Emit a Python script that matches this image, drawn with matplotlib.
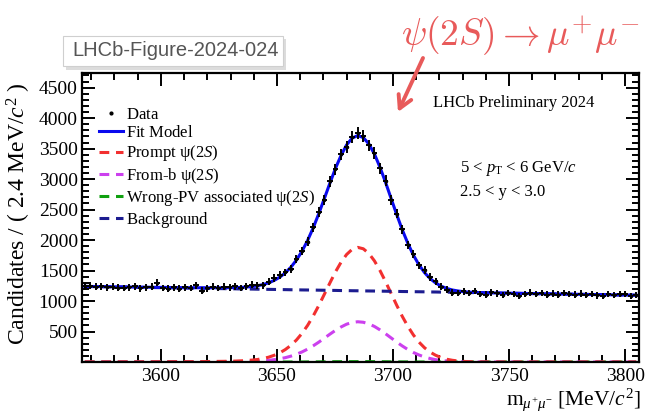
import numpy as np
import matplotlib
matplotlib.use("Agg")
import matplotlib.pyplot as plt
from matplotlib.lines import Line2D
from matplotlib.patches import Rectangle

# ---------------- data ----------------
mass_lo, mass_hi, n_bins = 3566.0, 3806.0, 100

data_counts = [
    1245, 1249, 1232, 1245, 1223, 1237, 1217, 1212, 1222, 1241,
    1209, 1222, 1236, 1299, 1214, 1202, 1227, 1205, 1228, 1213,
    1258, 1168, 1207, 1233, 1212, 1238, 1228, 1245, 1213, 1244,
    1268, 1255, 1255, 1318, 1378, 1426, 1472, 1524, 1687, 1822,
    1973, 2209, 2455, 2664, 2961, 3165, 3406, 3530, 3687, 3754,
    3711, 3552, 3431, 3179, 2976, 2661, 2433, 2178, 1921, 1772,
    1583, 1506, 1393, 1326, 1233, 1186, 1136, 1135, 1158, 1131,
    1162, 1113, 1106, 1143, 1127, 1095, 1134, 1117, 1086, 1114,
    1138, 1117, 1130, 1104, 1122, 1106, 1129, 1113, 1106, 1120,
    1098, 1112, 1091, 1084, 1113, 1096, 1115, 1118, 1082, 1100,
]

background = [
    1239, 1238, 1236, 1235, 1233, 1232, 1230, 1229, 1227, 1226,
    1224, 1223, 1222, 1220, 1219, 1217, 1216, 1214, 1213, 1211,
    1210, 1209, 1207, 1206, 1204, 1203, 1201, 1200, 1198, 1197,
    1196, 1194, 1193, 1191, 1190, 1188, 1187, 1185, 1184, 1182,
    1181, 1180, 1178, 1177, 1175, 1174, 1172, 1171, 1169, 1168,
    1166, 1165, 1164, 1162, 1161, 1159, 1158, 1156, 1155, 1153,
    1152, 1151, 1149, 1148, 1146, 1145, 1143, 1142, 1140, 1139,
    1138, 1136, 1135, 1133, 1132, 1130, 1129, 1127, 1126, 1124,
    1123, 1122, 1120, 1119, 1117, 1116, 1114, 1113, 1111, 1110,
    1108, 1107, 1106, 1104, 1103, 1101, 1100, 1098, 1097, 1095,
]

prompt = [
    1, 1, 1, 1, 1, 1, 1, 2, 2, 2,
    2, 3, 3, 3, 4, 4, 4, 4, 5, 5,
    6, 7, 7, 9, 10, 11, 13, 15, 19, 24,
    31, 41, 57, 79, 110, 150, 204, 273, 361, 470,
    600, 753, 925, 1109, 1296, 1477, 1635, 1763, 1848, 1880,
    1857, 1780, 1659, 1500, 1318, 1124, 931, 748, 585, 443,
    326, 233, 162, 110, 72, 45, 28, 17, 10, 5,
    3, 1, 1, 0, 0, 0, 0, 0, 0, 0,
    0, 0, 0, 0, 0, 0, 0, 0, 0, 0,
    0, 0, 0, 0, 0, 0, 0, 0, 0, 0,
]

from_b = [
    0, 0, 0, 1, 1, 1, 1, 1, 1, 1,
    1, 1, 1, 1, 1, 1, 2, 2, 2, 2,
    2, 2, 3, 3, 3, 4, 4, 5, 6, 8,
    11, 15, 20, 28, 38, 53, 71, 96, 127, 165,
    211, 265, 325, 390, 456, 519, 574, 620, 649, 660,
    652, 626, 583, 527, 463, 395, 327, 263, 205, 156,
    115, 82, 57, 38, 25, 16, 10, 6, 3, 2,
    1, 1, 0, 0, 0, 0, 0, 0, 0, 0,
    0, 0, 0, 0, 0, 0, 0, 0, 0, 0,
    0, 0, 0, 0, 0, 0, 0, 0, 0, 0,
]

wrong_pv = [0] * 40 + [1, 1, 2, 3, 4, 5, 5, 6, 6, 6, 6, 6, 5, 5, 4, 3, 2, 1, 1] + [0] * 41

legend_labels = [r"$\mathrm{Data}$", r"$\mathrm{Fit\ Model}$", "Prompt ψ(2$S$)",
                 "From-b ψ(2$S$)", "Wrong-PV associated ψ(2$S$)",
                 r"$\mathrm{Background}$"]
x_ticks = [3600, 3650, 3700, 3750, 3800]
y_ticks = [0, 500, 1000, 1500, 2000, 2500, 3000, 3500, 4000, 4500]
error_scale = 1.6   # drawn error bars look wider than plain sqrt(N)

# ---------------- style ----------------
SERIF = ["Liberation Serif", "DejaVu Serif"]
plt.rcParams["font.family"] = SERIF
plt.rcParams["mathtext.fontset"] = "custom"
plt.rcParams["mathtext.rm"] = "Liberation Serif"
plt.rcParams["mathtext.it"] = "Liberation Serif:italic"
plt.rcParams["mathtext.bf"] = "Liberation Serif:bold"

C_FIT = "#0a0aee"
C_PROMPT = "#f23030"
C_FROMB = "#cc40ee"
C_WPV = "#10a010"
C_BKG = "#1c1c90"
DASH = (0, (3.2, 2.2))

W, H = 646, 413
fig = plt.figure(figsize=(W / 100, H / 100), dpi=100)
ax = fig.add_axes([82 / W, 1 - 362 / H, (639 - 82) / W, (362 - 73) / H])

edges = np.linspace(mass_lo, mass_hi, n_bins + 1)
centers = 0.5 * (edges[:-1] + edges[1:])
half_w = 0.5 * (edges[1] - edges[0])

d = np.array(data_counts, float)
bkg = np.array(background, float)
pr = np.array(prompt, float)
fb = np.array(from_b, float)
wp = np.array(wrong_pv, float)
fit = bkg + pr + fb + wp

ax.plot(centers, wp, color=C_WPV, lw=2.2, ls=DASH, zorder=2)
ax.plot(centers, fb, color=C_FROMB, lw=2.2, ls=DASH, zorder=2)
ax.plot(centers, pr, color=C_PROMPT, lw=2.2, ls=DASH, zorder=2)
ax.plot(centers, bkg, color=C_BKG, lw=2.2, ls=DASH, zorder=2)
ax.plot(centers, fit, color=C_FIT, lw=2.2, zorder=3)
ax.errorbar(centers, d, xerr=half_w, yerr=error_scale * np.sqrt(d), fmt="o",
            ms=1.5, color="black", elinewidth=1.4, capsize=0, zorder=4)

ax.set_xlim(mass_lo, mass_hi)
ax.set_ylim(0, 4740)
ax.set_xticks(x_ticks)
ax.set_xticklabels([str(v) for v in x_ticks])
ax.set_xticks(np.arange(3570, 3806, 10), minor=True)
ax.set_yticks(y_ticks)
ax.set_yticklabels(["" if v == 0 else str(v) for v in y_ticks])
ax.set_yticks(np.arange(0, 4741, 100), minor=True)
ax.tick_params(which="both", direction="in", top=True, right=True,
               labelsize=14, width=1.4, colors="black")
ax.tick_params(which="major", length=9.5)
ax.tick_params(which="minor", length=5)
ax.tick_params(axis="y", pad=3)
ax.tick_params(axis="x", pad=4)
for lbl in ax.get_xticklabels() + ax.get_yticklabels():
    lbl.set_fontfamily(SERIF)
for s in ax.spines.values():
    s.set_linewidth(1.6)

# axis titles
fig.text(19 / W, 1 - 214 / H, "Candidates / ( 2.4 MeV/$c^{2}$ )", rotation=90,
         ha="center", va="center", fontsize=17)
fig.text(641 / W, 1 - 405 / H, r"m$_{\mu^{+}\mu^{-}}$ [MeV/$c^{2}$]",
         ha="right", va="baseline", fontsize=15.5)

# legend
handles = [
    Line2D([], [], marker="o", ms=2, ls="none", color="black"),
    Line2D([], [], color=C_FIT, lw=2.2),
    Line2D([], [], color=C_PROMPT, lw=2.2, ls=DASH),
    Line2D([], [], color=C_FROMB, lw=2.2, ls=DASH),
    Line2D([], [], color=C_WPV, lw=2.2, ls=DASH),
    Line2D([], [], color=C_BKG, lw=2.2, ls=DASH),
]
fig.legend(handles, legend_labels, loc="upper left",
           bbox_to_anchor=(99 / W, 1 - 107 / H), bbox_transform=fig.transFigure,
           frameon=False, fontsize=12, handlelength=1.45, handletextpad=0.2,
           labelspacing=0.13, borderpad=0, borderaxespad=0)

# in-plot texts
fig.text(433 / W, 1 - 103 / H, "LHCb Preliminary 2024", fontsize=12,
         ha="left", va="center")
fig.text(460 / W, 1 - 168 / H, r"5 < $p_{\mathrm{T}}$ < 6 GeV/$c$", fontsize=12,
         ha="left", va="center")
fig.text(460 / W, 1 - 192 / H, "2.5 < y < 3.0", fontsize=12,
         ha="left", va="center")

# figure tag box with shadow
fig.patches.append(Rectangle((66 / W, 1 - 70 / H), 220 / W, 31 / H,
                             transform=fig.transFigure, facecolor="#d4d4d4",
                             edgecolor="none", alpha=0.8, zorder=1))
fig.patches.append(Rectangle((63 / W, 1 - 66 / H), 220 / W, 30 / H,
                             transform=fig.transFigure, facecolor="white",
                             edgecolor="#cfcfcf", lw=0.8, zorder=2))
fig.text(72 / W, 1 - 51 / H, "LHCb-Figure-2024-024", fontsize=14.5,
         family=["Liberation Sans", "DejaVu Sans"], color="#555555",
         ha="left", va="center", zorder=3)

# red handwritten annotation
C_ANN = "#e85a5a"
fig.text(640 / W, 1 - 46 / H, r"$\psi(2S) \rightarrow \mu^{+}\mu^{-}$",
         math_fontfamily="cm", fontsize=27, color=C_ANN, ha="right",
         va="baseline")
ax.annotate("", xy=(398 / W, 1 - 112 / H), xycoords="figure fraction",
            xytext=(423 / W, 1 - 58 / H), textcoords="figure fraction",
            arrowprops=dict(arrowstyle="->,head_length=0.9,head_width=0.5",
                            color=C_ANN, lw=2.8, shrinkA=0, shrinkB=0,
                            capstyle="round", joinstyle="round"))

fig.savefig("out.png", dpi=100)
